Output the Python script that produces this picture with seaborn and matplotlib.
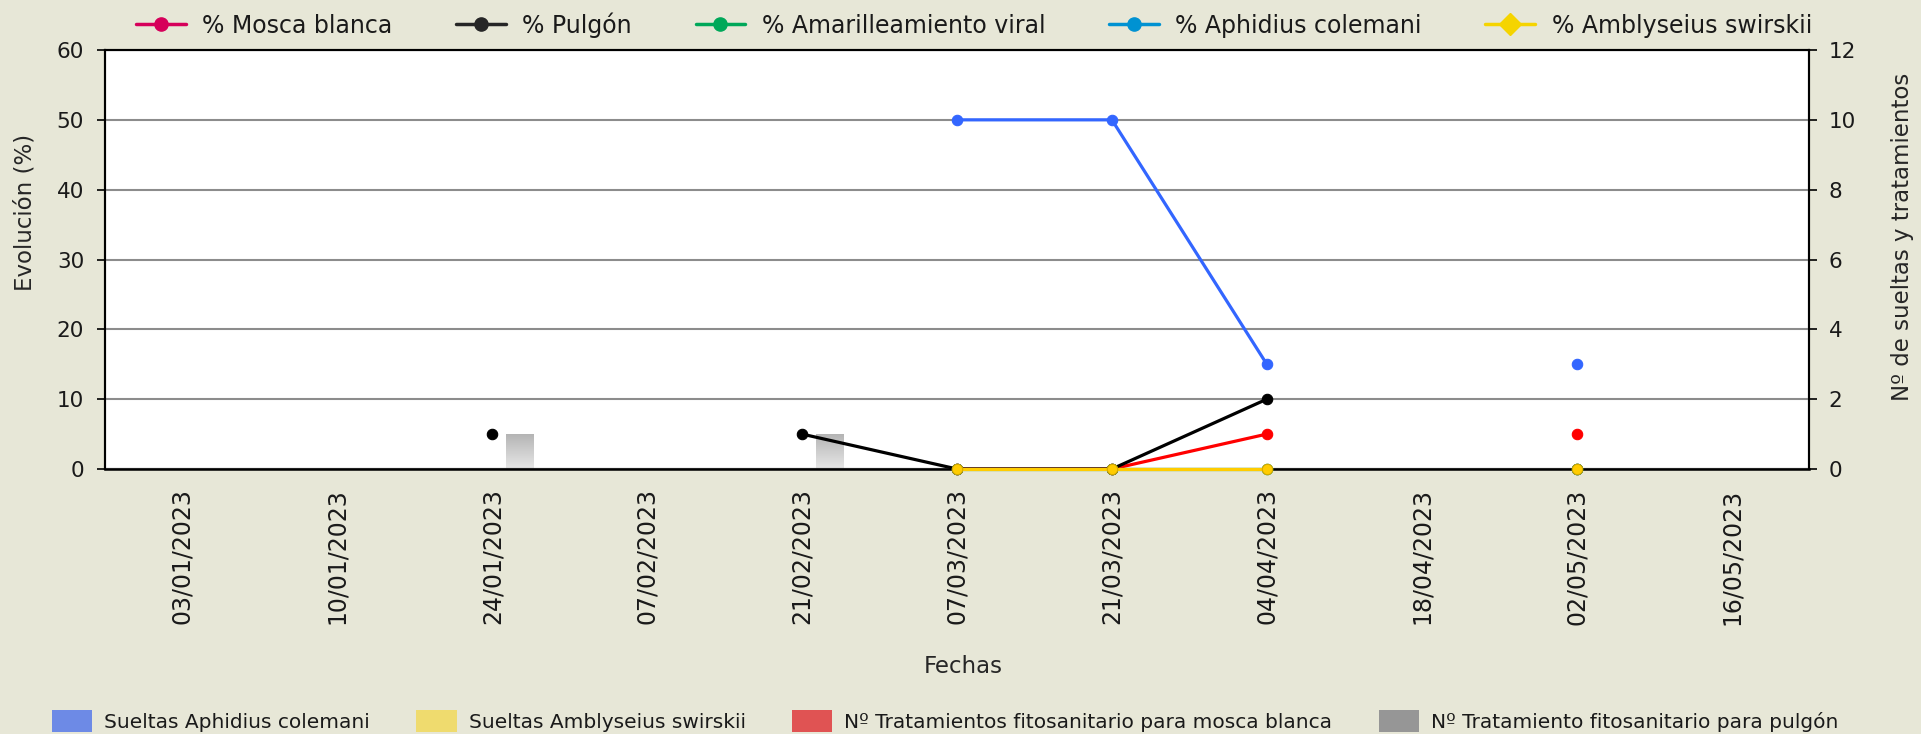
import numpy as np
import pandas as pd
import matplotlib
matplotlib.use("Agg")
import matplotlib.pyplot as plt
import seaborn as sns
from matplotlib.lines import Line2D
from matplotlib.patches import Patch

# ---------------- data ----------------
fechas = ["03/01/2023", "10/01/2023", "24/01/2023", "07/02/2023", "21/02/2023",
          "07/03/2023", "21/03/2023", "04/04/2023", "18/04/2023", "02/05/2023",
          "16/05/2023"]
nan = np.nan
pct_mosca_blanca = [nan, nan, nan, nan, nan, 0, 0, 5, nan, 5, nan]
pct_pulgon = [nan, nan, 5, nan, 5, 0, 0, 10, nan, 0, nan]
pct_amarilleamiento = [nan, nan, nan, nan, nan, 0, 0, 0, nan, 0, nan]
pct_aphidius = [nan, nan, nan, nan, nan, 50, 50, 15, nan, 15, nan]
pct_amblyseius = [nan, nan, nan, nan, nan, 0, 0, 0, nan, 0, nan]

sueltas_aphidius = [0, 0, 0, 0, 0, 0, 0, 0, 0, 0, 0]
sueltas_amblyseius = [0, 0, 0, 0, 0, 0, 0, 0, 0, 0, 0]
trat_mosca = [0, 0, 0, 0, 0, 0, 0, 0, 0, 0, 0]
trat_pulgon = [0, 0, 1, 0, 1, 0, 0, 0, 0, 0, 0]

line_names = ["% Mosca blanca", "% Pulgón", "% Amarilleamiento viral",
              "% Aphidius colemani", "% Amblyseius swirskii"]
bar_names = ["Sueltas Aphidius colemani", "Sueltas Amblyseius swirskii",
             "Nº Tratamientos fitosanitario para mosca blanca",
             "Nº Tratamiento fitosanitario para pulgón"]

# ---------------- style ----------------
BG = "#e7e7d7"
sns.set_style("white")
plt.rcParams["font.family"] = ["DejaVu Sans"]
plt.rcParams["text.color"] = "#1a1a1a"

plot_colors = ["#ff0000", "#000000", "#00a859", "#3366ff", "#ffcc00"]
legend_colors = ["#d6005a", "#262626", "#00a859", "#0092d2", "#f5d400"]
bar_colors = ["#6d8ae6", "#efdb6e", "#e05353", "#969696"]

W_PX, H_PX = 1921, 734
fig = plt.figure(figsize=(W_PX / 100, H_PX / 100), dpi=100, facecolor=BG)
L, R, T, B = 105, 1809, 50, 469
ax = fig.add_axes([L / W_PX, 1 - B / H_PX, (R - L) / W_PX, (B - T) / H_PX])
ax2 = ax.twinx()
ax.set_zorder(ax2.get_zorder() + 1)
ax.patch.set_visible(False)
ax2.patch.set_visible(True)
ax2.patch.set_facecolor("white")

# ---------------- bars (secondary axis) ----------------
bars_df = pd.DataFrame({
    "fecha": fechas * 3,
    "serie": [bar_names[0]] * 11 + [bar_names[1]] * 11 + [bar_names[3]] * 11,
    "valor": sueltas_aphidius + sueltas_amblyseius + trat_pulgon,
})
sns.barplot(data=bars_df, x="fecha", y="valor", hue="serie", order=fechas,
            hue_order=[bar_names[0], bar_names[1], bar_names[3]],
            palette=[bar_colors[0], bar_colors[1], bar_colors[3]],
            width=0.524, dodge=True, errorbar=None, legend=False,
            edgecolor="none", ax=ax2)
mosca_df = pd.DataFrame({"fecha": fechas, "serie": bar_names[2], "valor": trat_mosca})
sns.barplot(data=mosca_df, x="fecha", y="valor", hue="serie", order=fechas,
            hue_order=[bar_names[0], bar_names[2], bar_names[3]],
            palette=[bar_colors[0], bar_colors[2], bar_colors[3]],
            width=0.524, dodge=True, errorbar=None, legend=False,
            edgecolor="none", ax=ax2)

# gradient fill for visible bars
grad = np.linspace(0, 1, 256).reshape(-1, 1)
cmap = matplotlib.colors.LinearSegmentedColormap.from_list("g", ["#b4b4b4", "#e8e8e8"])
for p in list(ax2.patches):
    h = p.get_height()
    if h > 0:
        x0 = p.get_x()
        w = p.get_width()
        im = ax2.imshow(grad, extent=[x0, x0 + w, 0, h], origin="upper",
                        cmap=cmap, aspect="auto", zorder=p.get_zorder())
        im.set_clip_path(p)
        p.set_facecolor("none")

# ---------------- lines (primary axis) ----------------
def segments(vals):
    rows, seg, prev = [], 0, False
    for i, v in enumerate(vals):
        if np.isnan(v):
            if prev:
                seg += 1
            prev = False
            continue
        rows.append((i, v, seg))
        prev = True
    return pd.DataFrame(rows, columns=["pos", "val", "seg"])

series = [pct_mosca_blanca, pct_pulgon, pct_amarilleamiento, pct_aphidius, pct_amblyseius]
for k, (vals, col) in enumerate(zip(series, plot_colors)):
    d = segments(vals)
    ec = "#d9a800" if k == 4 else col
    n_before = len(ax.lines)
    sns.lineplot(data=d, x="pos", y="val", units="seg", estimator=None, sort=False,
                 color=col, lw=2.3, marker="o", markersize=7.5,
                 markeredgecolor=ec, markeredgewidth=0.8, legend=False,
                 ax=ax, zorder=3 + k)
    for ln in ax.lines[n_before:]:
        ln.set_clip_on(False)

# ---------------- axes ----------------
ax.set_xlim(-0.5, 10.5)
ax.set_ylim(0, 60)
ax2.set_ylim(0, 12)
ax.set_yticks(range(0, 61, 10))
ax2.set_yticks(range(0, 13, 2))
ax.set_xticks(range(len(fechas)))
ax.set_xticklabels(fechas, rotation=90, fontsize=17)
ax.set_xticks(np.arange(-0.5, len(fechas), 1), minor=True)
ax.tick_params(axis="x", which="major", length=0, pad=14, colors="#1a1a1a")
ax.tick_params(axis="x", which="minor", length=6, width=1.5, direction="out", color="black")
ax.tick_params(axis="y", which="major", length=6, width=1.2, direction="out",
               labelsize=15.5, pad=9, colors="#1a1a1a")
ax2.tick_params(axis="y", which="major", length=6, width=1.2, direction="out",
                labelsize=15.5, pad=8, colors="#1a1a1a")
ax.tick_params(axis="y", colors="black", labelcolor="#1a1a1a")
ax2.tick_params(axis="y", colors="black", labelcolor="#1a1a1a")

ax.yaxis.grid(True, color="#8c8c8c", lw=1.5)
ax.xaxis.grid(False)
ax2.grid(False)
ax.set_axisbelow(True)

for a in (ax, ax2):
    for s in a.spines.values():
        s.set_visible(True)
        s.set_color("black")
        s.set_linewidth(1.5)
ax.spines["bottom"].set_linewidth(1.8)
ax.spines["bottom"].set_zorder(2.5)

ax.set_xlabel("Fechas", fontsize=16.5)
ax.xaxis.set_label_coords(0.5035, -0.445)
ax.set_ylabel("Evolución (%)", fontsize=16.5)
ax.yaxis.set_label_coords(-0.040, 0.613)
ax2.set_ylabel("Nº de sueltas y tratamientos", fontsize=16.5)
ax2.yaxis.set_label_coords(1.048, 0.553)

# ---------------- legends ----------------
top_handles = []
for k, (name, col) in enumerate(zip(line_names, legend_colors)):
    mk = "D" if k == 4 else "o"
    ms = 11 if k == 4 else 9.5
    top_handles.append(Line2D([], [], color=col, lw=2.5, marker=mk, markersize=ms,
                              markeredgecolor=col, label=name))
fig.legend(handles=top_handles, loc="center", bbox_to_anchor=(0.507, 0.966),
           ncol=5, frameon=False, fontsize=17, handlelength=2.1,
           handletextpad=0.7, columnspacing=2.7, borderaxespad=0)

bot_handles = [Patch(facecolor=c, edgecolor="none", label=n)
               for n, c in zip(bar_names, bar_colors)]
fig.legend(handles=bot_handles, loc="center", bbox_to_anchor=(0.492, 0.0175),
           ncol=4, frameon=False, fontsize=14.5, handlelength=2.0,
           handleheight=1.25, handletextpad=0.6, columnspacing=2.3,
           borderaxespad=0)

fig.savefig("out.png", dpi=100, facecolor=BG)
